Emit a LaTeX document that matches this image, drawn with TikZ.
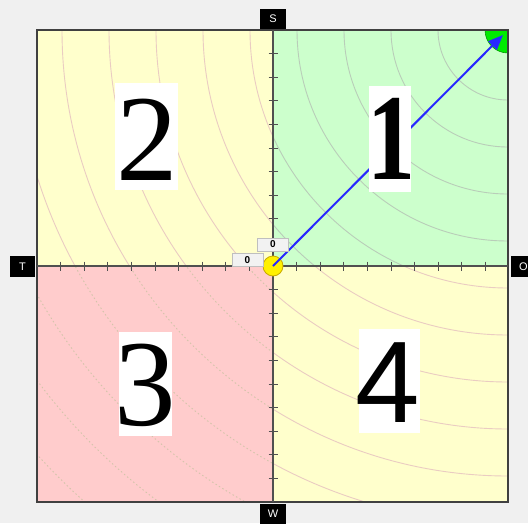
\documentclass[tikz,border=0pt]{standalone}
\usepackage{fontspec}
\setmainfont{Liberation Serif}
\newfontfamily\sansf{Liberation Sans}
\usetikzlibrary{arrows.meta}
\definecolor{bgc}{RGB}{240,240,240}
\definecolor{qone}{RGB}{204,255,204}
\definecolor{qtwo}{RGB}{255,255,204}
\definecolor{qthree}{RGB}{255,204,204}
\definecolor{arcone}{RGB}{185,205,185}
\definecolor{arctwo}{RGB}{234,204,194}
\definecolor{arcthree}{RGB}{212,196,170}
\definecolor{axisc}{RGB}{80,80,80}
\definecolor{framec}{RGB}{64,64,64}
\definecolor{arrowc}{RGB}{40,40,255}
\definecolor{wedgec}{RGB}{0,235,0}
\definecolor{sunc}{RGB}{255,240,0}
\definecolor{sunb}{RGB}{200,170,0}
\begin{document}
\begin{tikzpicture}[x=1pt,y=-1pt,
  sidelabel/.style={fill=black,text=white,font=\sansf\fontsize{11}{11}\selectfont,minimum width=26pt,minimum height=20pt,inner sep=0pt},
  zerobox/.style={fill=white!95!black,draw=black!25,font=\sansf\bfseries\fontsize{10}{10}\selectfont,minimum width=31pt,minimum height=13pt,inner sep=0pt},
  bignum/.style={inner sep=0pt,font=\fontsize{123}{123}\selectfont},
  tickline/.style={axisc,line width=1pt},
  arcq1/.style={arcone,line width=0.9pt},
  arcq2/.style={arctwo,line width=0.9pt},
  arcq3/.style={arcthree,line width=0.9pt,dash pattern=on 1.5pt off 2.5pt}]
\useasboundingbox (0,0) rectangle (528,523);
\clip (0,0) rectangle (528,523);
\fill[bgc] (0,0) rectangle (528,523);
% quadrants
\fill[qone] (273,30) rectangle (508,266);
\fill[qtwo] (37,30) rectangle (273,266);
\fill[qthree] (37,266) rectangle (273,502);
\fill[qtwo] (273,266) rectangle (508,502);
% arcs centred on the top-right corner
\begin{scope}
  \clip (273,30) rectangle (508,266);
  \foreach \k in {1,...,13} \draw[arcq1] (508,30) circle[radius={23pt+47pt*\k}];
\end{scope}
\begin{scope}
  \clip (37,30) rectangle (273,266);
  \foreach \k in {1,...,13} \draw[arcq2] (508,30) circle[radius={23pt+47pt*\k}];
\end{scope}
\begin{scope}
  \clip (273,266) rectangle (508,502);
  \foreach \k in {1,...,13} \draw[arcq2] (508,30) circle[radius={23pt+47pt*\k}];
\end{scope}
\begin{scope}
  \clip (37,266) rectangle (273,502);
  \foreach \k in {1,...,14} \draw[arcq3] (508,30) circle[radius={23pt+47pt*\k}];
\end{scope}
% green wedge
\begin{scope}
  \clip (37,30) rectangle (508,502);
  \fill[wedgec] (508,30) circle[radius=23pt];
  \draw[green!60!black,line width=0.6pt] (508,30) circle[radius=23pt];
\end{scope}
% frame and axes
\draw[framec,line width=1.5pt] (37,30) rectangle (508,502);
\draw[axisc,line width=1.5pt] (37,266) -- (508,266);
\draw[axisc,line width=1.5pt] (273,30) -- (273,502);
\foreach \k in {1,...,9} {
  \draw[tickline] (273+23.6*\k,261.5) -- ++(0,9);
  \draw[tickline] (273-23.6*\k,261.5) -- ++(0,9);
  \draw[tickline] (268.5,266+23.6*\k) -- ++(9,0);
  \draw[tickline] (268.5,266-23.6*\k) -- ++(9,0);
}
% centre and vector
\node[circle,fill=sunc,draw=sunb,line width=0.8pt,minimum size=20pt,inner sep=0pt] (c0) at (273,266) {};
\coordinate (tip) at (503,35);
\draw[arrowc,line width=2pt,-{Triangle[length=15pt,width=12pt]}] (c0.center) -- (tip);
% quadrant numbers
\fill[white] (369,86) rectangle (411,192);
\node[bignum] (n1) at (391,138.5) {\scalebox{0.78}[1]{\bfseries 1}};
\fill[white] (115,83) rectangle (178,190);
\node[bignum] (n2) at (147,139.5) {2};
\fill[white] (119,332) rectangle (172,436);
\node[bignum] (n3) at (145.5,385) {3};
\fill[white] (359,329) rectangle (420,433);
\node[bignum,font=\sansf\fontsize{116}{116}\selectfont] (n4) at (388,383) {4};
% zero labels
\node[zerobox] (z1) at (247.5,260) {0};
\node[zerobox] (z2) at (273,244.5) {0};
% side labels
\node[sidelabel] (ls) at (273,19) {S};
\node[sidelabel,minimum width=25pt,minimum height=21pt] (lt) at (22.5,266.5) {T};
\node[sidelabel] (lw) at (273,514) {W};
\node[sidelabel,minimum width=25pt,minimum height=21pt] (lo) at (523.5,266.5) {O};
\end{tikzpicture}
\end{document}
